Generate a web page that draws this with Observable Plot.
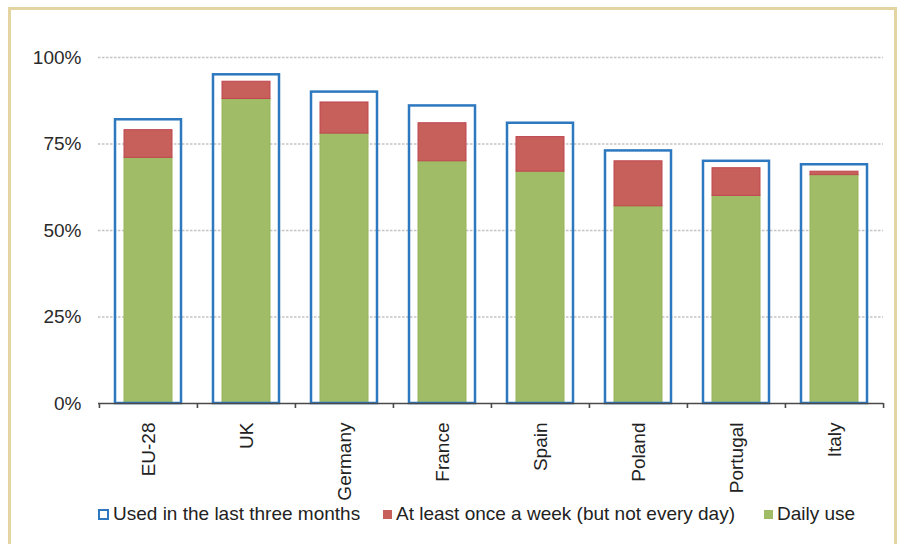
<!DOCTYPE html>
<html>
<head>
<meta charset="utf-8">
<script src="https://cdn.jsdelivr.net/npm/d3@7"></script>
<script src="https://cdn.jsdelivr.net/npm/@observablehq/plot@0.6"></script>
<style>
  html, body { margin: 0; padding: 0; background: #fff; }
  body { width: 908px; height: 544px; overflow: hidden; position: relative; font-family: "Liberation Sans", Arial, sans-serif; }
  #frame { position: absolute; left: 8px; top: 7px; width: 889px; height: 600px; border: 3px solid #e4d4a2; box-sizing: border-box; }
  #chart { position: absolute; left: 0; top: 0; }
  #legend { position: absolute; top: 502px; left: 0; width: 908px; height: 26px; font-size: 19px; color: #222; }
  .item { position: absolute; top: 0; display: flex; align-items: center; height: 24px; white-space: nowrap; }
  .sw { width: 9px; height: 9px; margin-right: 4px; margin-top: 1px; }
</style>
</head>
<body>
<div id="frame"></div>
<div id="chart"></div>
<div id="legend"></div>
<script>
// Share of population using the internet, by frequency of use
const countries = ["EU-28", "UK", "Germany", "France", "Spain", "Poland", "Portugal", "Italy"];
const lastThreeMonths = [82, 95, 90, 86, 81, 73, 70, 69];
const weeklyNotDaily = [8, 5, 9, 11, 10, 13, 8, 1];
const dailyUse = [71, 88, 78, 70, 67, 57, 60, 66];
const yTicks = [0, 25, 50, 75, 100];
const seriesNames = ["Used in the last three months", "At least once a week (but not every day)", "Daily use"];

const colors = { outline: "#2e78c0", weekly: "#c75f5b", weeklyEdge: "#bf4650", daily: "#a1bc67", dailyEdge: "#97b45c" };

const width = 908, height = 520;
const margin = { top: 57, right: 25, bottom: 117, left: 98 };
const bandwidth = (width - margin.left - margin.right) / countries.length;

const rows = countries.map((c, i) => ({
  country: c,
  total: lastThreeMonths[i],
  daily: dailyUse[i],
  weeklyTop: dailyUse[i] + weeklyNotDaily[i]
}));

const chart = Plot.plot({
  width, height,
  marginTop: margin.top, marginRight: margin.right, marginBottom: margin.bottom, marginLeft: margin.left,
  style: { fontFamily: "Liberation Sans, Arial, sans-serif", fontSize: "19px", color: "#333", background: "transparent", overflow: "visible" },
  x: { domain: countries, padding: 0, axis: null },
  y: { domain: [0, 100], axis: null },
  marks: [
    // dotted gridlines
    Plot.ruleY(yTicks.filter(d => d > 0), { stroke: "#c4c4c4", strokeWidth: 1.3, strokeDasharray: "2.5,1.5" }),
    // y tick labels
    Plot.text(yTicks, { x: () => countries[0], y: d => d, text: d => d + "%", textAnchor: "end", dx: -bandwidth / 2 - 18, fill: "#2a2a2a", fontSize: 19 }),
    // daily use
    Plot.barY(rows, { x: "country", y1: 0, y2: "daily", fill: colors.daily, stroke: colors.dailyEdge, strokeWidth: 1, insetLeft: 25, insetRight: 25 }),
    // at least weekly, not daily
    Plot.barY(rows, { x: "country", y1: "daily", y2: "weeklyTop", fill: colors.weekly, stroke: colors.weeklyEdge, strokeWidth: 1, insetLeft: 25, insetRight: 25 }),
    // used in the last three months
    Plot.barY(rows, { x: "country", y1: 0, y2: "total", fill: "none", stroke: colors.outline, strokeWidth: 2.5, insetLeft: 16, insetRight: 16 }),
    // x axis line
    Plot.ruleY([0], { stroke: "#4a4a4a", strokeWidth: 1.6 }),
    // ticks between categories
    Plot.ruleX(countries, { x: d => d, y1: 0, y2: 0, dx: -bandwidth / 2, insetBottom: -5, stroke: "#4a4a4a", strokeWidth: 1.6 }),
    Plot.ruleX(countries.slice(-1), { x: d => d, y1: 0, y2: 0, dx: bandwidth / 2, insetBottom: -5, stroke: "#4a4a4a", strokeWidth: 1.6 }),
    // category labels
    Plot.text(countries, { x: d => d, y: 0, text: d => d, rotate: -90, textAnchor: "end", lineAnchor: "middle", dy: 19, fill: "#222", fontSize: 19 })
  ]
});
document.getElementById("chart").appendChild(chart);

// legend
const legend = document.getElementById("legend");
const legendItems = [
  { name: seriesNames[0], left: 98, swatch: `border: 2.5px solid ${colors.outline}; width: 7px; height: 7px; background: #fff;` },
  { name: seriesNames[1], left: 383, swatch: `background: ${colors.weekly};` },
  { name: seriesNames[2], left: 764, swatch: `background: ${colors.daily};` }
];
for (const it of legendItems) {
  const el = document.createElement("div");
  el.className = "item";
  el.style.left = it.left + "px";
  el.innerHTML = `<span class="sw" style="${it.swatch}"></span><span>${it.name}</span>`;
  legend.appendChild(el);
}
</script>
</body>
</html>
